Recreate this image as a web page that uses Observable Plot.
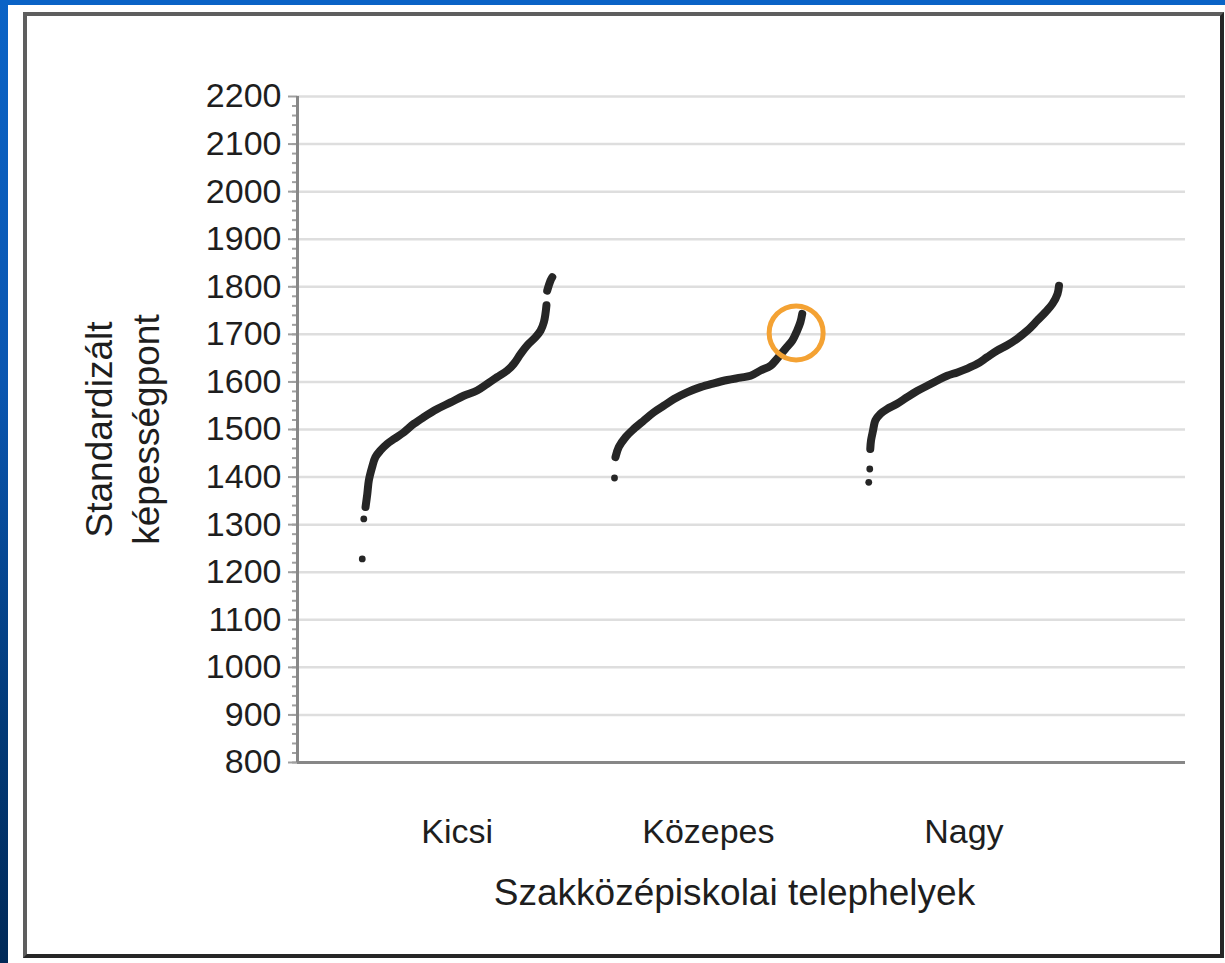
<!DOCTYPE html>
<html>
<head>
<meta charset="utf-8">
<script src="https://cdn.jsdelivr.net/npm/d3@7"></script>
<script src="https://cdn.jsdelivr.net/npm/@observablehq/plot@0.6"></script>
<style>
  html, body { margin: 0; padding: 0; }
  body { width: 1225px; height: 963px; position: relative; overflow: hidden; background: #ffffff; font-family: "Liberation Sans", Arial, sans-serif; }
  #stripLeft { position: absolute; left: 0; top: 0; width: 8px; height: 963px; background: linear-gradient(#0a63c6, #0a56b0 40%, #023a78 75%, #012a58); }
  #stripTop { position: absolute; left: 0; top: 0; width: 1225px; height: 5px; background: #0a63c6; }
  #frame { position: absolute; left: 23px; top: 12px; width: 1201px; height: 946px; box-sizing: border-box;
           border-top: 4px solid #5e5e5e; border-left: 4px solid #5e5e5e; border-right: 4px solid #262626; border-bottom: 4px solid #262626; }
  #chart { position: absolute; left: 0; top: 0; }
</style>
</head>
<body>
<div id="stripLeft"></div>
<div id="stripTop"></div>
<div id="frame"></div>
<div id="chart"></div>
<script>
// Categories (school site size) and titles
const categories = ["Kicsi", "Közepes", "Nagy"];
const xTitle = "Szakközépiskolai telephelyek";
const yTitle = "Standardizált\nképességpont";

// Y tick labels
const yTicks = [800, 900, 1000, 1100, 1200, 1300, 1400, 1500, 1600, 1700, 1800, 1900, 2000, 2100, 2200];
const yMinorTicks = d3.range(800, 2200, 20);

// Kicsi: ordinal position (rank) and standardized score, sorted
const kicsiRank  = [26.9, 27.6, 28.2, 29.5, 30.8, 32.8, 35.5, 38.1, 42.0, 46.0, 49.9, 55.2, 60.5, 65.7, 71.0, 75.0, 78.9, 82.9, 85.5, 88.2, 90.8, 94.1, 96.1, 97.4, 98.0, 98.4];
const kicsiScore = [1337, 1365, 1393, 1421, 1442, 1456, 1470, 1480, 1494, 1512, 1526, 1543, 1557, 1571, 1582, 1596, 1610, 1624, 1638, 1659, 1677, 1694, 1708, 1726, 1743, 1761];
const kicsiTopRank  = [98.7, 100.0, 100.7];
const kicsiTopScore = [1792, 1813, 1820];
const kicsiLowRank  = [25.6, 26.2];
const kicsiLowScore = [1228, 1312];

// Közepes
const kozepesRank  = [125.7, 127.0, 129.7, 132.9, 136.9, 140.8, 144.8, 148.8, 154.0, 159.3, 164.6, 169.9, 175.1, 179.1, 183.0, 187.0, 189.6, 192.9, 195.6, 197.5, 198.8, 199.5];
const kozepesScore = [1442, 1463, 1484, 1501, 1519, 1536, 1550, 1564, 1578, 1589, 1597, 1604, 1609, 1613, 1624, 1634, 1649, 1670, 1687, 1708, 1726, 1743];
const kozepesLowRank  = [125.3];
const kozepesLowScore = [1398];

// Nagy
const nagyRank  = [226.4, 226.7, 227.5, 228.4, 230.4, 233.0, 237.0, 241.0, 244.9, 248.9, 252.9, 256.8, 260.8, 264.7, 268.7, 272.6, 276.6, 280.5, 284.5, 288.5, 292.4, 295.7, 298.4, 300.4, 301.0];
const nagyScore = [1459, 1477, 1498, 1519, 1533, 1543, 1554, 1568, 1581, 1592, 1603, 1613, 1620, 1628, 1638, 1652, 1666, 1677, 1691, 1708, 1729, 1747, 1764, 1785, 1802];
const nagyLowRank  = [225.8, 226.2];
const nagyLowScore = [1389, 1417];

// Highlighted school (orange circle)
const highlightRank  = [197.1];
const highlightScore = [1703];

// ---- build tables ----
const zip = (r, s, g, seg) => r.map((x, i) => ({rank: x, score: s[i], group: g, seg}));
const curves = [
  ...zip(kicsiRank, kicsiScore, "Kicsi", "k1"),
  ...zip(kicsiTopRank, kicsiTopScore, "Kicsi", "k2"),
  ...zip(kozepesRank, kozepesScore, "Közepes", "m1"),
  ...zip(nagyRank, nagyScore, "Nagy", "n1")
];
const lows = [
  ...zip(kicsiLowRank, kicsiLowScore, "Kicsi", "kl"),
  ...zip(kozepesLowRank, kozepesLowScore, "Közepes", "ml"),
  ...zip(nagyLowRank, nagyLowScore, "Nagy", "nl")
];
const allPts = curves.concat(lows);
const centers = categories.map(c => {
  const ext = d3.extent(allPts.filter(d => d.group === c), d => d.rank);
  return (ext[0] + ext[1]) / 2;
});
const nameAt = new Map(centers.map((c, i) => [c, categories[i]]));
const highlight = highlightRank.map((x, i) => ({rank: x, score: highlightScore[i]}));

const ink = "#262626";
const axisGrey = "#878787";

const chart = Plot.plot({
  width: 1225,
  height: 963,
  marginLeft: 297,
  marginRight: 40,
  marginTop: 96,
  marginBottom: 201,
  style: {background: "transparent", fontFamily: "'Liberation Sans', Arial, sans-serif", fontSize: "34px", color: "#1e1e1e", overflow: "visible"},
  x: {domain: [0, 351], label: null},
  y: {domain: [800, 2200], label: null},
  marks: [
    Plot.gridY(yTicks, {stroke: "#dedede", strokeOpacity: 1, strokeWidth: 2.5}),
    Plot.axisY(yMinorTicks, {tickSize: 5, tickFormat: () => "", stroke: "#a0a0a0", strokeWidth: 2, label: null}),
    Plot.axisY(yTicks, {tickSize: 9, tickPadding: 7, tickFormat: d => String(d), stroke: "#a0a0a0", strokeWidth: 2, fill: "#1e1e1e", fontSize: 34, label: null}),
    Plot.ruleX([0], {stroke: axisGrey, strokeWidth: 3}),
    Plot.ruleY([800], {stroke: axisGrey, strokeWidth: 3}),
    Plot.axisX(centers, {tickSize: 0, tickPadding: 56, tickFormat: d => nameAt.get(d), fill: "#1e1e1e", fontSize: 34, label: null}),
    Plot.line(curves, {x: "rank", y: "score", z: "seg", stroke: ink, strokeWidth: 8, curve: "catmull-rom", strokeLinecap: "round", strokeLinejoin: "round"}),
    Plot.dot(lows, {x: "rank", y: "score", r: 3.4, fill: ink}),
    Plot.dot(highlight, {x: "rank", y: "score", r: 27, stroke: "#f4a233", strokeWidth: 5, fill: "none"}),
    Plot.text([xTitle], {frameAnchor: "bottom", dx: -7, dy: 142, fontSize: 37, fill: "#1e1e1e"}),
    Plot.text([yTitle], {frameAnchor: "left", textAnchor: "middle", rotate: -90, dx: -177, lineHeight: 1.27, fontSize: 37, fill: "#1e1e1e"})
  ]
});
document.getElementById("chart").appendChild(chart);
</script>
</body>
</html>
